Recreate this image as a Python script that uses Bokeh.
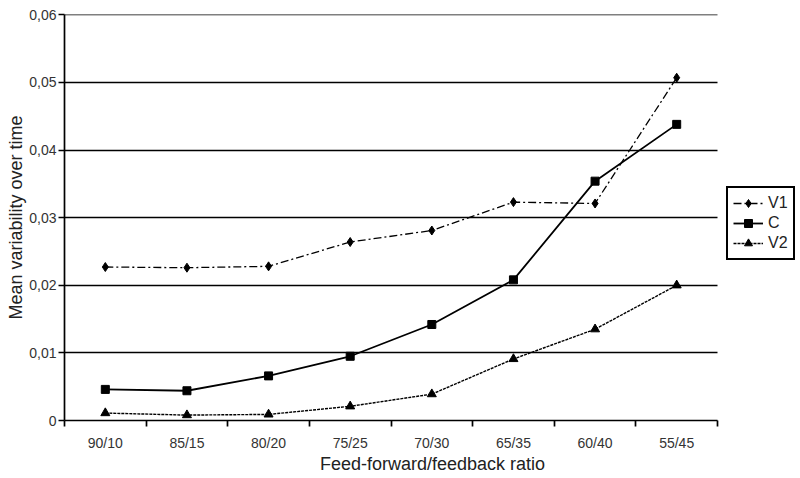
import numpy as np
from bokeh.plotting import figure
from bokeh.models import FixedTicker, Legend, LegendItem, Range1d, Grid
from bokeh.embed import file_html
from bokeh.resources import INLINE

categories = ["90/10", "85/15", "80/20", "75/25", "70/30", "65/35", "60/40", "55/45"]
v1 = [0.0227, 0.0226, 0.0228, 0.0264, 0.0281, 0.0323, 0.0321, 0.0507]
c = [0.0046, 0.0044, 0.0066, 0.0095, 0.0142, 0.0208, 0.0354, 0.0438]
v2 = [0.0011, 0.0008, 0.0009, 0.0021, 0.0039, 0.0091, 0.0135, 0.0200]
y_ticks = [0, 0.01, 0.02, 0.03, 0.04, 0.05, 0.06]
y_labels = ["0", "0,01", "0,02", "0,03", "0,04", "0,05", "0,06"]

FONT = "Liberation Sans"
n = len(categories)
x = list(np.arange(n) + 0.5)

LEFT = 64
PLOT_W = 653      # width of the data area in px
EXTRA_W = 800 - LEFT - PLOT_W  # room at the right for the legend
p = figure(frame_width=PLOT_W + EXTRA_W, frame_height=406, output_backend="svg", toolbar_location=None,
           x_range=Range1d(0, n * (PLOT_W + EXTRA_W) / PLOT_W), y_range=Range1d(0, 0.06005),
           min_border_left=LEFT, min_border_right=0, min_border_top=14, min_border_bottom=58)
p.outline_line_color = None
p.background_fill_color = "white"
p.xgrid.grid_line_color = None
p.ygrid.grid_line_color = "black"
p.ygrid.grid_line_width = 1.7
p.ygrid.ticker = FixedTicker(ticks=y_ticks[1:])
if "cross_bounds" in Grid.properties():
    p.ygrid.cross_bounds = (0, n)
else:
    p.ygrid.grid_line_color = None
    p.segment(x0=[0] * 6, x1=[n] * 6, y0=y_ticks[1:], y1=y_ticks[1:], line_color="black", line_width=1.7)

p.yaxis.ticker = FixedTicker(ticks=y_ticks)
p.yaxis.major_label_overrides = {t: l for t, l in zip(y_ticks, y_labels)}
p.yaxis.minor_tick_line_color = None
p.yaxis.major_tick_in = 0
p.yaxis.major_tick_out = 6
p.yaxis.axis_line_width = 1.7
p.yaxis.major_tick_line_width = 1.7
p.yaxis.major_label_standoff = 2
p.yaxis.axis_label = "Mean variability over time"

p.xaxis.bounds = (0, n)
p.xaxis.ticker = FixedTicker(ticks=x, minor_ticks=list(range(n + 1)))
p.xaxis.major_label_overrides = {xi: lab for xi, lab in zip(x, categories)}
p.xaxis.major_tick_in = 0
p.xaxis.major_tick_out = 0
p.xaxis.minor_tick_in = 0
p.xaxis.minor_tick_out = 6
p.xaxis.minor_tick_line_width = 1.7
p.xaxis.minor_tick_line_color = "black"
p.xaxis.axis_line_width = 1.7
p.xaxis.axis_label = "Feed-forward/feedback ratio"

for ax in (p.xaxis, p.yaxis):
    ax.axis_line_color = "black"
    ax.major_tick_line_color = "black"
    ax.major_label_text_font = FONT
    ax.major_label_text_font_size = "14px"
    ax.major_label_text_color = "#333333"
    ax.axis_label_text_font = FONT
    ax.axis_label_text_font_size = "18px"
    ax.axis_label_text_font_style = "normal"
    ax.axis_label_text_color = "#222222"
p.xaxis.major_label_standoff = 8
p.xaxis.axis_label_standoff = 0
p.yaxis.axis_label_standoff = 0

l1 = p.line(x, v1, line_color="black", line_width=1.3, line_dash="8 3 2 3")
m1 = p.scatter(x, v1, marker="diamond", size=9, fill_color="black", line_color="black")
l2 = p.line(x, c, line_color="black", line_width=1.8)
m2 = p.scatter(x, c, marker="square", size=8, fill_color="black", line_color="black")
l3 = p.line(x, v2, line_color="black", line_width=1.4, line_dash="3 1")
m3 = p.scatter(x, v2, marker="triangle", size=9, fill_color="black", line_color="black")

legend = Legend(items=[LegendItem(label="V1", renderers=[l1, m1]),
                       LegendItem(label="C", renderers=[l2, m2]),
                       LegendItem(label="V2", renderers=[l3, m3])],
                location=(662, 160))
legend.border_line_color = "black"
legend.border_line_alpha = 1.0
legend.border_line_width = 2
legend.label_text_font = FONT
legend.label_text_font_size = "16px"
legend.label_text_color = "#222222"
legend.glyph_width = 30
legend.glyph_height = 20
legend.label_height = 20
legend.label_width = 10
legend.spacing = 0
legend.padding = 5
legend.margin = 0
legend.label_standoff = 5
legend.background_fill_alpha = 1
p.add_layout(legend, "center")

open("out.html", "w").write(file_html(p, INLINE))
